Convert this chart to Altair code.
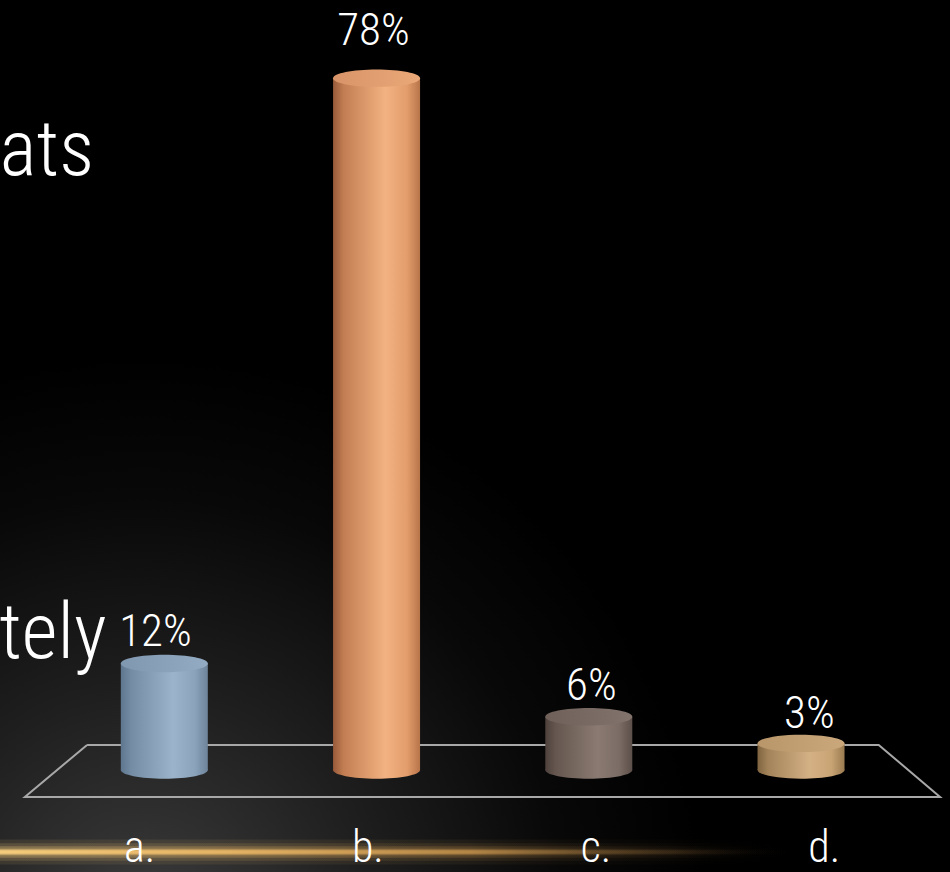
import altair as alt
import pandas as pd

# ---- data ----
categories = ["a.", "b.", "c.", "d."]
values = [12, 78, 6, 3]
value_labels = ["12%", "78%", "6%", "3%"]
slide_fragments = ["ats", "tely"]

# ---- styling ----
FONT = "Roboto Condensed, Liberation Sans Narrow, DejaVu Sans Condensed, sans-serif"
FW = 300
body_colors = {
    "a.": ["#5f778e", "#748ca4", "#9bb4cc", "#8ba4bc", "#6d8399"],
    "b.": ["#96593a", "#c27e52", "#f3b282", "#e39d6c", "#b8744a"],
    "c.": ["#4e413c", "#65574f", "#8a7a72", "#7b6c65", "#5c4e48"],
    "d.": ["#7f6440", "#a3845a", "#d4b085", "#c8a474", "#9a7a50"],
}
top_colors = {
    "a.": ["#7f98b0", "#93acc4"],
    "b.": ["#d89468", "#eaa878"],
    "c.": ["#6f605a", "#82736c"],
    "d.": ["#b8966a", "#caa87c"],
}
stop_offsets = [0, 0.12, 0.6, 0.85, 1]

def hgrad(colors, offsets):
    return {"gradient": "linear", "x1": 0, "x2": 1, "y1": 0, "y2": 0,
            "stops": [{"offset": o, "color": c} for o, c in zip(offsets, colors)]}

ELLIPSE = "M-1,0A1,0.2,0,1,1,1,0A1,0.2,0,1,1,-1,0Z"
BAR_W = 87

XMIN, XMAX = -0.7506, 3.6783
YMIN, YMAX = -11.5, 86.81
xs = alt.Scale(domain=[XMIN, XMAX], nice=False, zero=False)
ys = alt.Scale(domain=[YMIN, YMAX], nice=False, zero=False)

df = pd.DataFrame({
    "cat": categories,
    "idx": list(range(len(categories))),
    "value": values,
    "label": value_labels,
})
base = alt.Chart(df)

# background glow (lower-left); rect overshoots the view so no seam is visible
bg = alt.Chart(pd.DataFrame({"x": [XMIN - 0.15], "x2": [XMAX + 0.15],
                             "y": [YMIN - 3], "y2": [YMAX + 3]})).mark_rect(
    color={"gradient": "radial", "x1": 0.17, "y1": 0.98, "r1": 0.0, "x2": 0.17, "y2": 0.98, "r2": 0.56,
           "stops": [{"offset": 0, "color": "#3c3c3c"},
                     {"offset": 0.4, "color": "#1f1f1f"},
                     {"offset": 0.75, "color": "#080808"},
                     {"offset": 1, "color": "#000000"}]}
).encode(x=alt.X("x:Q", scale=xs, axis=None), x2="x2:Q",
         y=alt.Y("y:Q", scale=ys, axis=None), y2="y2:Q")

# gold glow line at bottom
gold = hgrad(["rgba(245,205,125,1)", "rgba(230,180,100,0.95)", "rgba(195,145,75,0.75)",
              "rgba(100,72,38,0.3)", "rgba(0,0,0,0)"], [0, 0.3, 0.6, 0.85, 1])
line_y = -9.245
glow_layers = []
for half, op in [(1.4, 0.10), (1.0, 0.16), (0.65, 0.28), (0.38, 0.55), (0.2, 1.0)]:
    d = pd.DataFrame({"x": [XMIN - 0.1], "x2": [2.98], "y": [line_y - half], "y2": [line_y + half]})
    glow_layers.append(
        alt.Chart(d).mark_rect(color=gold, opacity=op).encode(
            x=alt.X("x:Q", scale=xs, axis=None), x2="x2:Q",
            y=alt.Y("y:Q", scale=ys, axis=None), y2="y2:Q"))

# floor outline
floor_df = pd.DataFrame({
    "o": [0, 1, 2, 3, 4],
    "x": [-0.364, 3.366, 3.655, -0.657, -0.364],
    "y": [2.83, 2.83, -3.05, -3.05, 2.83],
})
floor = alt.Chart(floor_df).mark_line(color="#a8a8a8", strokeWidth=2).encode(
    x=alt.X("x:Q", scale=xs, axis=None), y=alt.Y("y:Q", scale=ys, axis=None), order="o:Q")

# cylinders
cyl_layers = []
for cat in categories:
    g = hgrad(body_colors[cat], stop_offsets)
    tg = hgrad(top_colors[cat], [0, 1])
    sub = base.transform_filter(alt.datum.cat == cat)
    bottom = sub.transform_calculate(zero="0").mark_point(
        shape=ELLIPSE, size=BAR_W ** 2, filled=True, color=g, opacity=1, strokeWidth=0
    ).encode(x=alt.X("idx:Q", scale=xs, axis=None), y=alt.Y("zero:Q", scale=ys, axis=None))
    body = sub.transform_calculate(zero="0").mark_bar(size=BAR_W, color=g).encode(
        x=alt.X("idx:Q", scale=xs, axis=None),
        y=alt.Y("zero:Q", scale=ys, axis=None), y2="value:Q")
    top = sub.mark_point(
        shape=ELLIPSE, size=BAR_W ** 2, filled=True, color=tg, opacity=1, strokeWidth=0
    ).encode(x=alt.X("idx:Q", scale=xs, axis=None), y=alt.Y("value:Q", scale=ys, axis=None))
    cyl_layers += [bottom, body, top]

# value labels (perspective projected)
val_text = base.transform_calculate(
    lx="1.543 + (datum.idx - 1.543) * 1.027",
    ly="datum.value * 1.026 + 1.69",
).mark_text(font=FONT, fontWeight=FW, fontSize=45, color="white", align="center",
            baseline="alphabetic").encode(
    x=alt.X("lx:Q", scale=xs, axis=None), y=alt.Y("ly:Q", scale=ys, axis=None), text="label:N")

# category labels
cat_text = base.transform_calculate(
    lx="1.543 + (datum.idx - 1.543) * 1.0754",
    ly="-10.37",
).mark_text(font=FONT, fontWeight=FW, fontSize=44, color="white", align="center",
            baseline="alphabetic").encode(
    x=alt.X("lx:Q", scale=xs, axis=None), y=alt.Y("ly:Q", scale=ys, axis=None), text="cat:N")

# slide text fragments (left edge of the slide)
frag_df = pd.DataFrame({"t": slide_fragments, "x": [-0.775, -0.778], "y": [67.08, 12.63]})
frag = alt.Chart(frag_df).mark_text(font=FONT, fontWeight=FW, fontSize=78, color="white",
                                     align="left", baseline="alphabetic").encode(
    x=alt.X("x:Q", scale=xs, axis=None), y=alt.Y("y:Q", scale=ys, axis=None), text="t:N")

chart = alt.layer(bg, *glow_layers, floor, *cyl_layers, val_text, cat_text, frag).properties(
    width=950, height=872, autosize=alt.AutoSizeParams(type="none"), padding=0,
    background="#000000",
).configure_view(stroke=None)

chart.save("out.html", embed_options={"renderer": "svg", "actions": False})
